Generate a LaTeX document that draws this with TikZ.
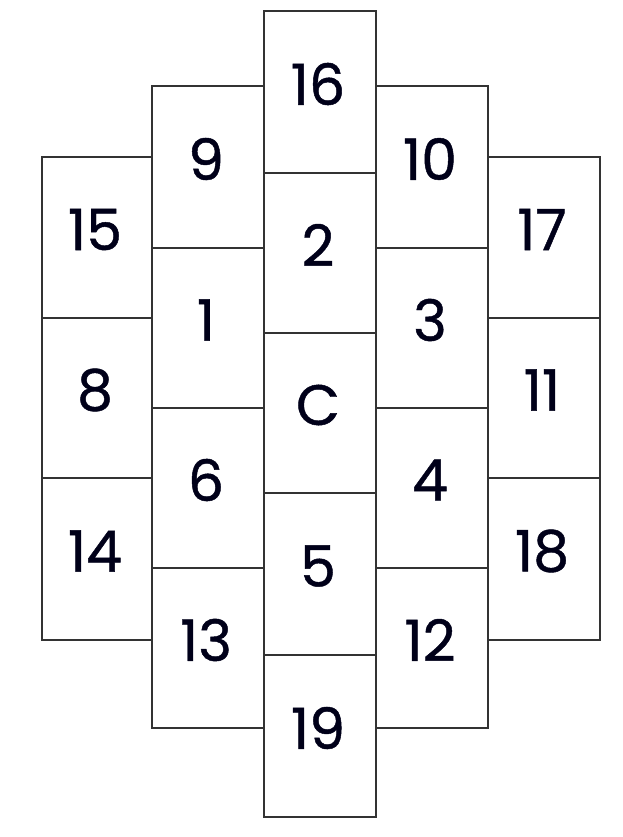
\documentclass[tikz,border=0pt]{standalone}
\usepackage{fontspec}
\setmainfont{Poppins}[FakeBold=0.8]
\begin{document}
\begin{tikzpicture}[x=1pt,y=-1pt,
  cell/.style={draw=black!80,line width=1.2pt},
  lab/.style={font=\fontsize{57}{57}\selectfont,text=black!90!blue,inner sep=0pt,anchor=center}]
\useasboundingbox (0,0) rectangle (623,837);
\newcommand{\cellbox}[5]{%
  \draw[cell] (#1,#2) rectangle (#3,#4);
  \node[lab] (n#5) at ({(#1+#3)/2-2},{(#2+#4)/2-8}) {#5};}
% column 1
\cellbox{42}{157}{152}{318}{15}
\cellbox{42}{318}{152}{478}{8}
\cellbox{42}{478}{152}{640}{14}
% column 2
\cellbox{152}{86}{264}{248}{9}
\cellbox{152}{248}{264}{408}{1}
\cellbox{152}{408}{264}{568}{6}
\cellbox{152}{568}{264}{728}{13}
% column 3
\cellbox{264}{11}{376}{173}{16}
\cellbox{264}{173}{376}{333}{2}
\cellbox{264}{333}{376}{493}{C}
\cellbox{264}{493}{376}{655}{5}
\cellbox{264}{655}{376}{817}{19}
% column 4
\cellbox{376}{86}{488}{248}{10}
\cellbox{376}{248}{488}{408}{3}
\cellbox{376}{408}{488}{568}{4}
\cellbox{376}{568}{488}{728}{12}
% column 5
\cellbox{488}{157}{600}{318}{17}
\cellbox{488}{318}{600}{478}{11}
\cellbox{488}{478}{600}{640}{18}
\end{tikzpicture}
\end{document}
